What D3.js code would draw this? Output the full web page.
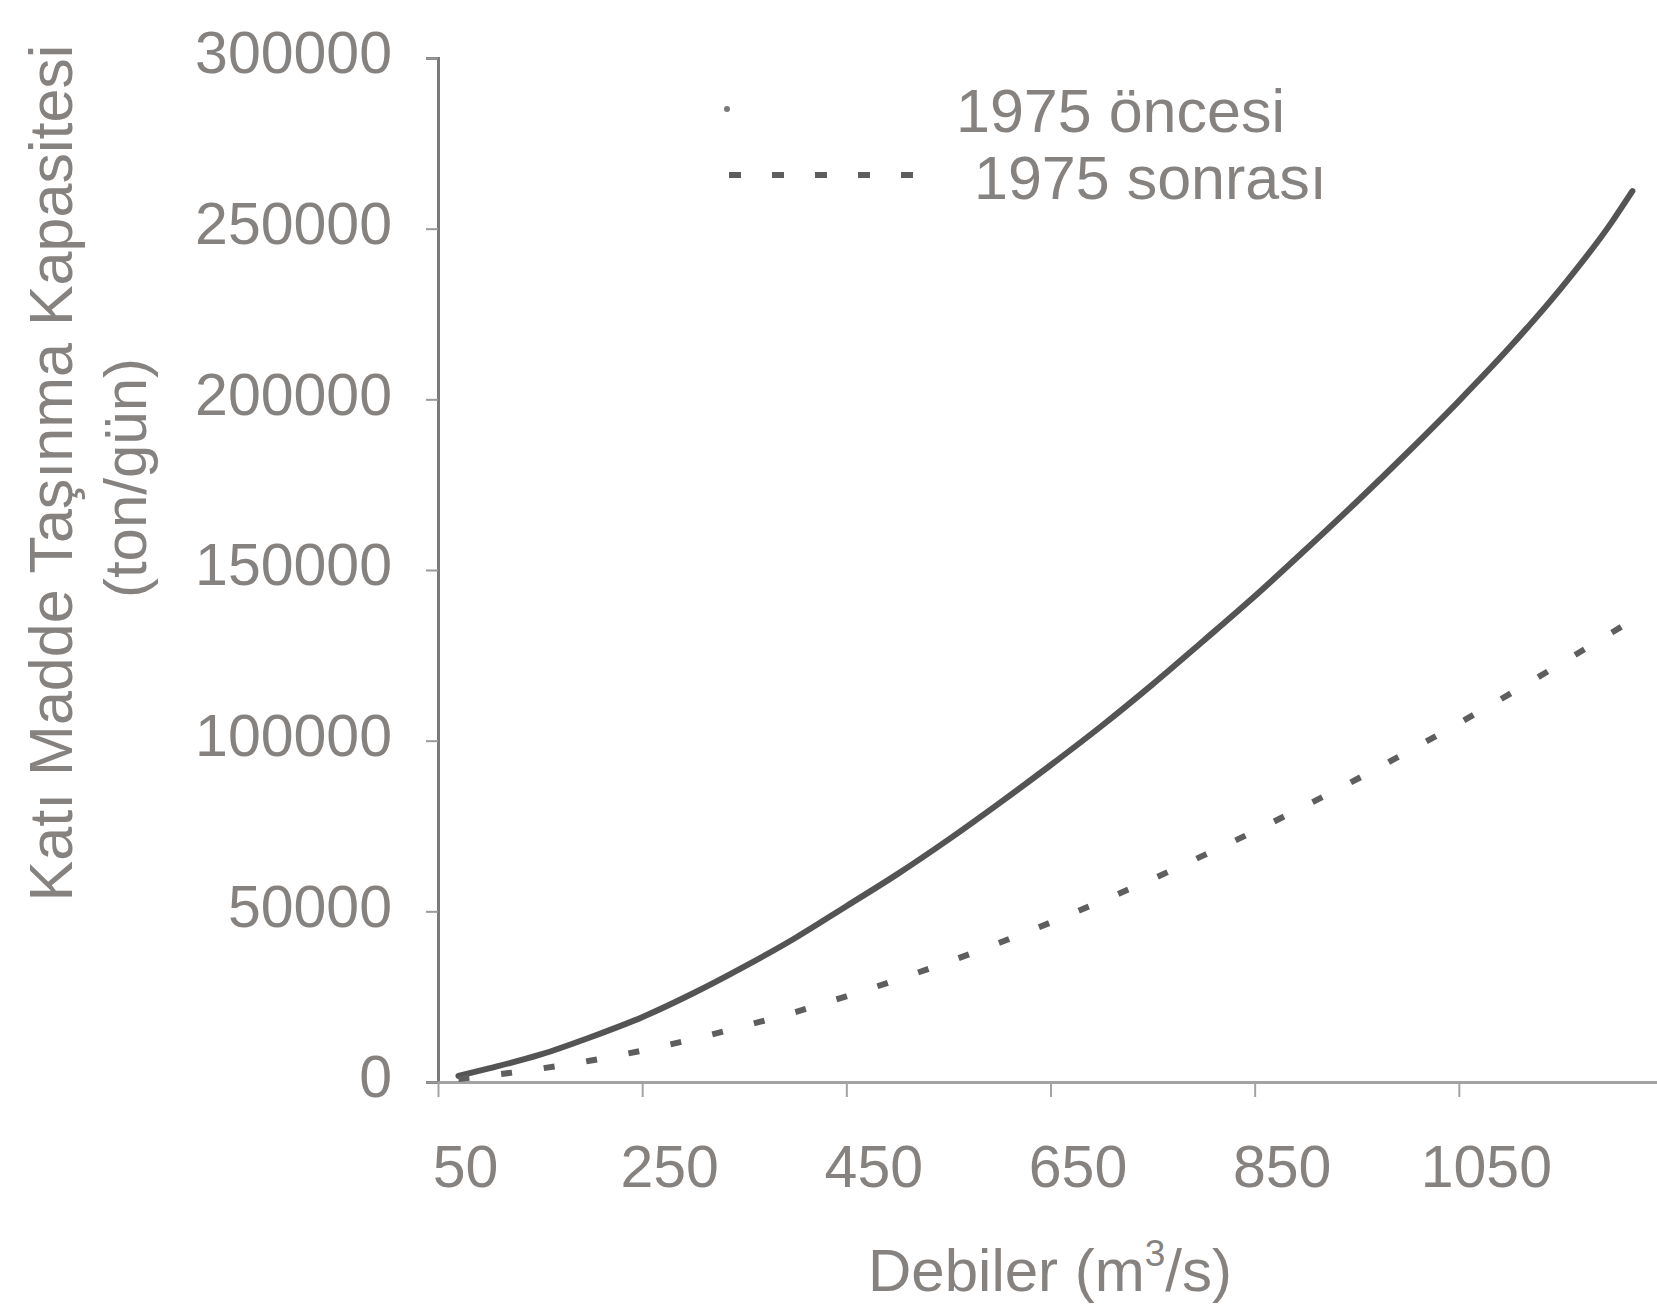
<!DOCTYPE html>
<html>
<head>
<meta charset="utf-8">
<script src="https://cdn.jsdelivr.net/npm/d3@7"></script>
<style>
  body { margin: 0; background: #fff; }
  text { font-family: "Liberation Sans", Arial, sans-serif; fill: #86827f; }
</style>
</head>
<body>
<svg width="1657" height="1307"></svg>
<script>
// debi values (m3/s) and transport capacity (ton/gün)
var qOncesi = [70, 100, 150, 200, 250, 300, 350, 400, 450, 500, 550, 600, 650,
               700, 750, 800, 850, 900, 950, 1000, 1050, 1100, 1150, 1200, 1220];
var oncesi = [1800, 4000, 8000, 13200, 19000, 26000, 33800, 42200, 51500, 60900,
              71000, 81700, 92800, 104300, 116500, 129300, 142300, 156000, 170000,
              184500, 199500, 215300, 232500, 252000, 261000];

var qSonrasi = [70, 100, 150, 200, 250, 300, 350, 400, 450, 500, 550, 600, 650,
                700, 750, 800, 850, 900, 950, 1000, 1050, 1100, 1150, 1200, 1210];
var sonrasi = [900, 1900, 3900, 6300, 9200, 12600, 16400, 20500, 25100, 30000,
               35200, 40800, 46700, 53000, 59500, 66400, 73500, 81000, 88700,
               96800, 105100, 113700, 122600, 131700, 133500];

var xTicks = [50, 250, 450, 650, 850, 1050];
var yTicks = [0, 50000, 100000, 150000, 200000, 250000, 300000];
var seriesNames = ["1975 öncesi", "1975 sonrası"];

var svg = d3.select("svg");

var x = d3.scaleLinear().domain([50, 1250]).range([438, 1663]);
var y = d3.scaleLinear().domain([0, 300000]).range([1082, 58]);

// y axis
var yAxis = svg.append("g")
    .attr("transform", "translate(" + x(50) + ",0)")
    .call(d3.axisLeft(y).tickValues(yTicks).tickSize(12).tickPadding(34)
      .tickFormat(d3.format("d")));
yAxis.select(".domain").attr("stroke", "#7a7a7a").attr("stroke-width", 3);
yAxis.selectAll(".tick line").attr("stroke", "#9a9a9a").attr("stroke-width", 2);
yAxis.selectAll(".tick text")
    .attr("fill", "#86827f")
    .style("font-size", "59px")
    .attr("dy", "0.3em")
    .attr("y", -3);

// x axis
var xAxis = svg.append("g")
    .attr("transform", "translate(0," + y(0) + ")")
    .call(d3.axisBottom(x).tickValues(xTicks).tickSize(15).tickPadding(48)
      .tickSizeOuter(0).tickFormat(d3.format("d")));
xAxis.select(".domain").attr("stroke", "#a3a3a3").attr("stroke-width", 3);
xAxis.selectAll(".tick line").attr("stroke", "#a3a3a3").attr("stroke-width", 2);
xAxis.selectAll(".tick text")
    .attr("fill", "#86827f")
    .style("font-size", "59px")
    .attr("x", 27)
    .attr("dy", "0.71em");

var line = d3.line()
    .x(function(d) { return x(d[0]); })
    .y(function(d) { return y(d[1]); })
    .curve(d3.curveMonotoneX);

svg.append("path")
    .datum(d3.zip(qOncesi, oncesi))
    .attr("d", line)
    .attr("fill", "none")
    .attr("stroke", "#545454")
    .attr("stroke-width", 6)
    .attr("stroke-linecap", "round");

svg.append("path")
    .datum(d3.zip(qSonrasi, sonrasi))
    .attr("d", line)
    .attr("fill", "none")
    .attr("stroke", "#5e5e5e")
    .attr("stroke-width", 6)
    .attr("stroke-dasharray", "11,32");

// legend
var legend = svg.append("g");
legend.append("circle")
    .attr("cx", 727).attr("cy", 109).attr("r", 3)
    .attr("fill", "#7a7a7a");
legend.append("line")
    .attr("x1", 729).attr("x2", 918)
    .attr("y1", 175).attr("y2", 175)
    .attr("stroke", "#5e5e5e")
    .attr("stroke-width", 6)
    .attr("stroke-dasharray", "12,31");
legend.append("text")
    .attr("x", 956).attr("y", 132)
    .style("font-size", "61px")
    .text(seriesNames[0]);
legend.append("text")
    .attr("x", 974).attr("y", 199)
    .style("font-size", "61px")
    .text(seriesNames[1]);

// axis titles
var xTitle = svg.append("text")
    .attr("x", 1050).attr("y", 1291)
    .attr("text-anchor", "middle")
    .style("font-size", "60px");
xTitle.append("tspan").text("Debiler (m");
xTitle.append("tspan").text("3").style("font-size", "37px").attr("dy", -25);
xTitle.append("tspan").text("/s)").attr("dy", 25);

svg.append("text")
    .attr("transform", "translate(72,473) rotate(-90)")
    .attr("text-anchor", "middle")
    .style("font-size", "61px")
    .text("Katı Madde Taşınma Kapasitesi");

svg.append("text")
    .attr("transform", "translate(146,478) rotate(-90)")
    .attr("text-anchor", "middle")
    .style("font-size", "60px")
    .text("(ton/gün)");
</script>
</body>
</html>
